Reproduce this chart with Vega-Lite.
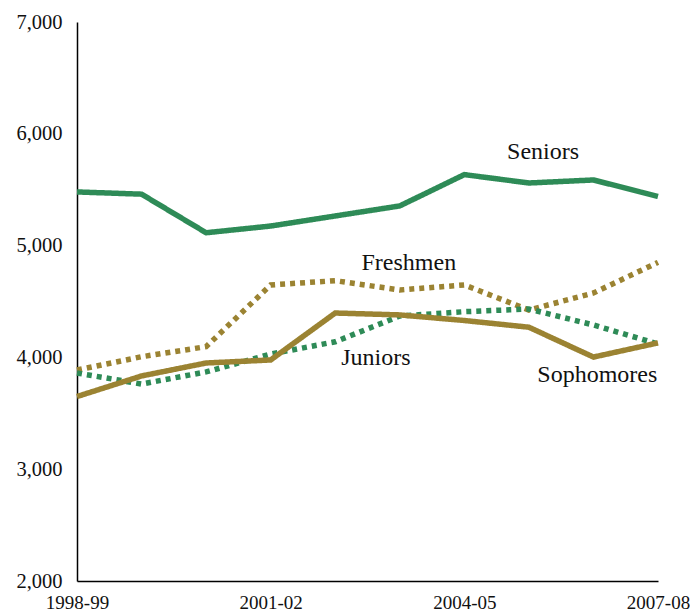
{
  "$schema": "https://vega.github.io/schema/vega-lite/v6.json",
  "autosize": {"type": "none"},
  "padding": {"left": 77, "top": 22, "right": 32, "bottom": 30},
  "width": 581,
  "height": 559,
  "background": "white",
  "config": {
    "view": {"stroke": null},
    "axis": {
      "grid": false,
      "ticks": false,
      "domainColor": "black",
      "domainWidth": 1.5,
      "labelFont": "Liberation Serif",
      "labelFontSize": 19,
      "labelColor": "#111111",
      "title": null
    }
  },
  "datasets": {
    "series": [
      {"year": "1998-99", "i": 0, "group": "Seniors", "value": 5480},
      {"year": "1999-00", "i": 1, "group": "Seniors", "value": 5460},
      {"year": "2000-01", "i": 2, "group": "Seniors", "value": 5115},
      {"year": "2001-02", "i": 3, "group": "Seniors", "value": 5175},
      {"year": "2002-03", "i": 4, "group": "Seniors", "value": 5265},
      {"year": "2003-04", "i": 5, "group": "Seniors", "value": 5355},
      {"year": "2004-05", "i": 6, "group": "Seniors", "value": 5635},
      {"year": "2005-06", "i": 7, "group": "Seniors", "value": 5560},
      {"year": "2006-07", "i": 8, "group": "Seniors", "value": 5587},
      {"year": "2007-08", "i": 9, "group": "Seniors", "value": 5440},
      {"year": "1998-99", "i": 0, "group": "Freshmen", "value": 3887},
      {"year": "1999-00", "i": 1, "group": "Freshmen", "value": 4006},
      {"year": "2000-01", "i": 2, "group": "Freshmen", "value": 4096},
      {"year": "2001-02", "i": 3, "group": "Freshmen", "value": 4648},
      {"year": "2002-03", "i": 4, "group": "Freshmen", "value": 4686},
      {"year": "2003-04", "i": 5, "group": "Freshmen", "value": 4603},
      {"year": "2004-05", "i": 6, "group": "Freshmen", "value": 4648},
      {"year": "2005-06", "i": 7, "group": "Freshmen", "value": 4424},
      {"year": "2006-07", "i": 8, "group": "Freshmen", "value": 4576},
      {"year": "2007-08", "i": 9, "group": "Freshmen", "value": 4850},
      {"year": "1998-99", "i": 0, "group": "Juniors", "value": 3860},
      {"year": "1999-00", "i": 1, "group": "Juniors", "value": 3762},
      {"year": "2000-01", "i": 2, "group": "Juniors", "value": 3870},
      {"year": "2001-02", "i": 3, "group": "Juniors", "value": 4030},
      {"year": "2002-03", "i": 4, "group": "Juniors", "value": 4140},
      {"year": "2003-04", "i": 5, "group": "Juniors", "value": 4370},
      {"year": "2004-05", "i": 6, "group": "Juniors", "value": 4409},
      {"year": "2005-06", "i": 7, "group": "Juniors", "value": 4433},
      {"year": "2006-07", "i": 8, "group": "Juniors", "value": 4290},
      {"year": "2007-08", "i": 9, "group": "Juniors", "value": 4120},
      {"year": "1998-99", "i": 0, "group": "Sophomores", "value": 3650},
      {"year": "1999-00", "i": 1, "group": "Sophomores", "value": 3834},
      {"year": "2000-01", "i": 2, "group": "Sophomores", "value": 3950},
      {"year": "2001-02", "i": 3, "group": "Sophomores", "value": 3977},
      {"year": "2002-03", "i": 4, "group": "Sophomores", "value": 4397},
      {"year": "2003-04", "i": 5, "group": "Sophomores", "value": 4380},
      {"year": "2004-05", "i": 6, "group": "Sophomores", "value": 4330},
      {"year": "2005-06", "i": 7, "group": "Sophomores", "value": 4270},
      {"year": "2006-07", "i": 8, "group": "Sophomores", "value": 4003},
      {"year": "2007-08", "i": 9, "group": "Sophomores", "value": 4130}
    ],
    "labels": [
      {"label": "Seniors", "i": 7.22, "value": 5837},
      {"label": "Freshmen", "i": 5.14, "value": 4844},
      {"label": "Juniors", "i": 4.63, "value": 3995},
      {"label": "Sophomores", "i": 8.06, "value": 3843}
    ]
  },
  "layer": [
    {
      "data": {"name": "series"},
      "mark": {"type": "line", "strokeWidth": 5.5, "strokeCap": "butt", "strokeJoin": "miter"},
      "encoding": {
        "x": {
          "field": "i",
          "type": "quantitative",
          "scale": {"domain": [0, 9], "nice": false, "zero": false},
          "axis": {
            "values": [0, 3, 6, 9],
            "labelExpr": "['1998-99','1999-00','2000-01','2001-02','2002-03','2003-04','2004-05','2005-06','2006-07','2007-08'][datum.value]",
            "labelPadding": 12,
            "labelFlush": false,
            "labelOverlap": false,
            "labelBound": false
          }
        },
        "y": {
          "field": "value",
          "type": "quantitative",
          "scale": {"domain": [2000, 7000], "nice": false, "zero": false},
          "axis": {
            "values": [2000, 3000, 4000, 5000, 6000, 7000],
            "format": ",d",
            "labelFontSize": 20.5,
            "labelPadding": 15,
            "labelOverlap": false,
            "labelFlush": false
          }
        },
        "color": {
          "field": "group",
          "type": "nominal",
          "scale": {
            "domain": ["Freshmen", "Juniors", "Seniors", "Sophomores"],
            "range": ["#9b8332", "#2e8b57", "#2e8b57", "#9b8332"]
          },
          "legend": null
        },
        "strokeDash": {
          "field": "group",
          "type": "nominal",
          "scale": {
            "domain": ["Freshmen", "Juniors", "Seniors", "Sophomores"],
            "range": [[5, 5], [5, 5], [1, 0], [1, 0]]
          },
          "legend": null
        }
      }
    },
    {
      "data": {"name": "labels"},
      "mark": {"type": "text", "font": "Liberation Serif", "fontSize": 24, "color": "#111111", "baseline": "middle", "align": "center"},
      "encoding": {
        "x": {"field": "i", "type": "quantitative"},
        "y": {"field": "value", "type": "quantitative"},
        "text": {"field": "label", "type": "nominal"}
      }
    }
  ]
}
